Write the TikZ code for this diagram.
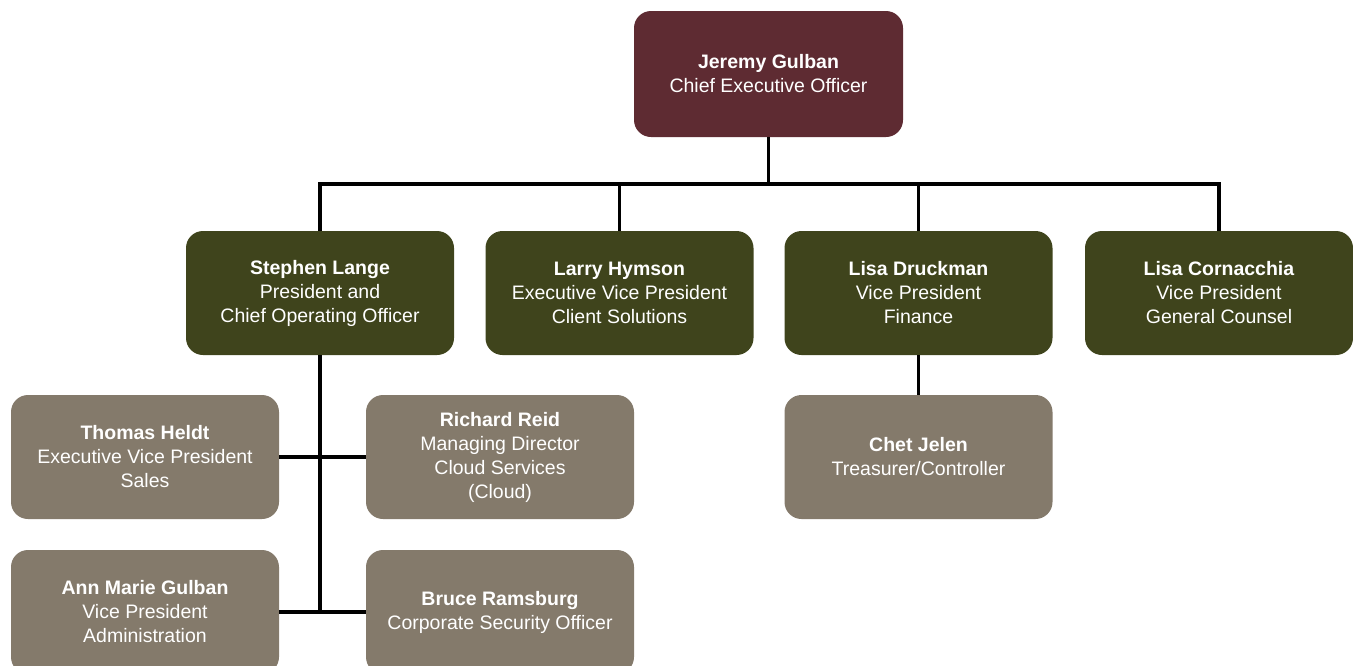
\documentclass[tikz,border=0pt]{standalone}
\usepackage{fontspec}
\setmainfont{Liberation Sans}
\definecolor{maroon}{HTML}{5E2B32}
\definecolor{olive}{HTML}{3F441C}
\definecolor{taupe}{HTML}{847A6B}
\begin{document}
\begin{tikzpicture}[x=1pt,y=-1pt,
  box/.style={rounded corners=17pt, minimum width=268pt, minimum height=124pt,
    inner sep=0pt, align=center, text=white,
    font=\fontsize{19.5}{24}\selectfont},
  ceobox/.style={box, fill=maroon, minimum width=269pt, minimum height=126pt},
  vpbox/.style={box, fill=olive},
  staffbox/.style={box, fill=taupe},
  conn/.style={line width=3.5pt, draw=black}]
\useasboundingbox (0,0) rectangle (1353,665);
\node[ceobox] (ceo) at (768.5,74) {\textbf{Jeremy Gulban}\\Chief Executive Officer};
\node[vpbox] (stephen) at (320,293) {\textbf{Stephen Lange}\\President and\\Chief Operating Officer};
\node[vpbox] (larry) at (619.5,293) {\textbf{Larry Hymson}\\Executive Vice President\\Client Solutions};
\node[vpbox] (lisad) at (918.5,293) {\textbf{Lisa Druckman}\\Vice President\\Finance};
\node[vpbox] (lisac) at (1219,293) {\textbf{Lisa Cornacchia}\\Vice President\\General Counsel};
\node[staffbox] (thomas) at (145,457) {\textbf{Thomas Heldt}\\Executive Vice President\\Sales};
\node[staffbox] (richard) at (500,457) {\textbf{Richard Reid}\\Managing Director\\Cloud Services\\(Cloud)};
\node[staffbox] (chet) at (918.5,457) {\textbf{Chet Jelen}\\Treasurer/Controller};
\node[staffbox] (ann) at (145,612) {\textbf{Ann Marie Gulban}\\Vice President\\Administration};
\node[staffbox] (bruce) at (500,612) {\textbf{Bruce Ramsburg}\\Corporate Security Officer};
\coordinate (bus) at (768.5,184);
\draw[conn] (ceo.south) -- (bus);
\draw[conn] (bus) -| (stephen.north);
\draw[conn] (bus) -| (larry.north);
\draw[conn] (bus) -| (lisad.north);
\draw[conn] (bus) -| (lisac.north);
\draw[conn] (stephen.south) -- (stephen.south |- ann.east);
\draw[conn] (thomas.east) -- (richard.west);
\draw[conn] (ann.east) -- (bruce.west);
\draw[conn] (lisad.south) -- (chet.north);
\end{tikzpicture}
\end{document}
